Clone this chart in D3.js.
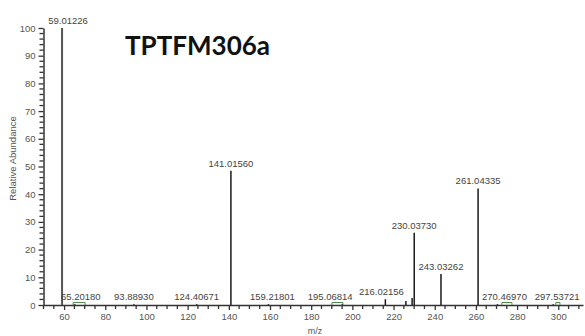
<!DOCTYPE html>
<html>
<head>
<meta charset="utf-8">
<script src="https://cdn.jsdelivr.net/npm/d3@7"></script>
<style>
  html, body { margin: 0; padding: 0; background: #fff; }
  svg { display: block; }
</style>
</head>
<body>
<script>
// MS/MS spectrum of TPTFM306a: centroid peaks (m/z, relative abundance %)
const peakMz    = [59.01226, 65.20180, 93.88930, 124.40671, 141.01560, 159.21801, 195.06814,
                   216.02156, 226.0, 229.0, 230.03730, 243.03262, 261.04335, 270.46970, 297.53721];
const peakAbund = [100, 0.3, 0.3, 0.3, 48.5, 0.3, 0.3,
                   2.1, 1.4, 2.5, 26.1, 11.2, 42.1, 0.3, 0.3];
const peakLabel = ["59.01226", "65.20180", "93.88930", "124.40671", "141.01560", "159.21801", "195.06814",
                   "216.02156", "", "", "230.03730", "243.03262", "261.04335", "270.46970", "297.53721"];

// low-level noise bumps near the baseline (m/z start, m/z end)
const noiseStart = [64.4, 190.1, 272.6, 298.8];
const noiseEnd   = [70.2, 195.4, 277.5, 300.8];
const noiseAbund = 0.9;

const xTicks = [60, 80, 100, 120, 140, 160, 180, 200, 220, 240, 260, 280, 300];
const yTicks = [0, 10, 20, 30, 40, 50, 60, 70, 80, 90, 100];

const title = "TPTFM306a";
const xTitle = "m/z";
const yTitle = "Relative Abundance";

const W = 585, H = 336;
const svg = d3.select("body").append("svg").attr("width", W).attr("height", H);

const x = d3.scaleLinear().domain([50, 312]).range([43.5, 583]);
const y = d3.scaleLinear().domain([0, 100]).range([305, 28]);

const axisColor = "#333";
const textColor = "#555";
const font = "'Liberation Sans', Arial, sans-serif";

// x axis: labelled every 20, minor ticks every 5
const xAxis = d3.axisBottom(x).tickValues(xTicks).tickSize(5).tickSizeOuter(0).tickPadding(3);
const gx = svg.append("g").attr("transform", `translate(0,${y(0)})`).call(xAxis);
gx.select(".domain").attr("stroke", axisColor).attr("stroke-width", 1.5);
gx.selectAll(".tick line").attr("stroke", axisColor).attr("stroke-width", 1.3);
gx.selectAll(".tick text").attr("fill", textColor).style("font", `9.5px ${font}`);
const xMinor = d3.range(50, 312, 5).filter(v => !xTicks.includes(v));
gx.selectAll(".minor").data(xMinor).join("line")
  .attr("x1", d => x(d)).attr("x2", d => x(d))
  .attr("y1", 0).attr("y2", 4)
  .attr("stroke", axisColor).attr("stroke-width", 1.3);

// y axis: labelled every 10, minor ticks every 2
const yAxis = d3.axisLeft(y).tickValues(yTicks).tickSize(5).tickSizeOuter(0).tickPadding(3);
const gy = svg.append("g").attr("transform", `translate(${x(50)},0)`).call(yAxis);
gy.select(".domain").attr("stroke", axisColor).attr("stroke-width", 1.5);
gy.selectAll(".tick line").attr("stroke", axisColor).attr("stroke-width", 1.3);
gy.selectAll(".tick text").attr("fill", textColor).style("font", `9.5px ${font}`);
const yMinor = d3.range(0, 101, 2).filter(v => v % 10 !== 0);
gy.selectAll(".minor").data(yMinor).join("line")
  .attr("x1", -4).attr("x2", 0)
  .attr("y1", d => y(d)).attr("y2", d => y(d))
  .attr("stroke", axisColor).attr("stroke-width", 1.3);

// noise bumps
const noise = noiseStart.map((s, i) => ({ s, e: noiseEnd[i] }));
svg.selectAll(".noise").data(noise).join("path")
  .attr("fill", "none").attr("stroke", "#4f8a4f").attr("stroke-width", 1)
  .attr("d", d => `M${x(d.s)},${y(0)}V${y(noiseAbund)}H${x(d.e)}V${y(0)}`);

// peaks
const peaks = peakMz.map((m, i) => ({ m, v: peakAbund[i], label: peakLabel[i] }));
svg.selectAll(".peak").data(peaks).join("line")
  .attr("x1", d => x(d.m)).attr("x2", d => x(d.m))
  .attr("y1", y(0)).attr("y2", d => y(d.v))
  .attr("stroke", d => d.v === 100 ? "#555" : "#1a1a1a")
  .attr("stroke-width", d => d.v === 100 ? 2 : 1.5);

// peak annotations, nudged sideways where neighbours would overlap
const nudge = { "59.01226": 6, "65.20180": 6, "159.21801": 4, "195.06814": -12,
                "216.02156": -4, "270.46970": 7, "297.53721": 4 };
svg.selectAll(".plabel").data(peaks.filter(d => d.label)).join("text")
  .attr("x", d => x(d.m) + (nudge[d.label] || 0))
  .attr("y", d => y(d.v) - 4)
  .attr("text-anchor", "middle")
  .attr("fill", "#444")
  .style("font", `9.5px ${font}`)
  .text(d => d.label);

// titles
svg.append("text").attr("x", 125).attr("y", 55)
  .attr("fill", "#111")
  .style("font", "bold 26px Lato, 'Open Sans', sans-serif")
  .text(title);

svg.append("text").attr("x", 315).attr("y", 334)
  .attr("text-anchor", "middle").attr("fill", textColor)
  .style("font", `9px ${font}`)
  .text(xTitle);

svg.append("text")
  .attr("transform", `translate(16,${(y(0) + y(100)) / 2 - 8}) rotate(-90)`)
  .attr("text-anchor", "middle").attr("fill", textColor)
  .style("font", `9.5px ${font}`)
  .text(yTitle);
</script>
</body>
</html>
